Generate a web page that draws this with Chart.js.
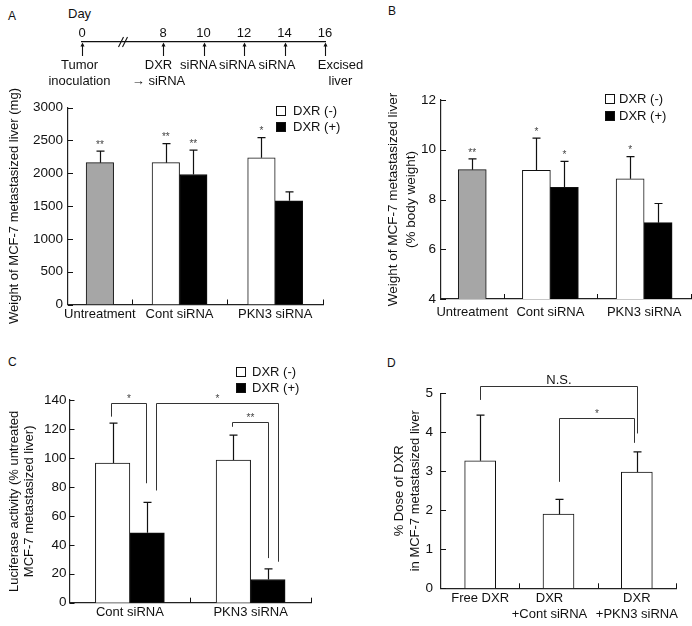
<!DOCTYPE html>
<html>
<head>
<meta charset="utf-8">
<title>DXR + PKN3 siRNA, MCF-7 liver metastasis</title>
<script src="https://cdn.jsdelivr.net/npm/chart.js@4.4.1/dist/chart.umd.min.js"></script>
<style>
  html, body { margin: 0; padding: 0; background: #fff; }
  body { position: relative; width: 692px; height: 626px; overflow: hidden;
         font-family: "Liberation Sans", Arial, "DejaVu Sans", sans-serif; color: #111; }
  .panel { position: absolute; }
  .tag { position: absolute; font-size: 12px; line-height: 14px; }
</style>
</head>
<body>
<div class="tag" style="left:8px;top:9px">A</div>
<div class="tag" style="left:68px;top:6px;font-size:13px;line-height:15px">Day</div>
<div class="tag" style="left:388px;top:4px">B</div>
<div class="tag" style="left:8px;top:355px">C</div>
<div class="tag" style="left:387px;top:356px">D</div>

<div class="panel" style="left:0;top:0;width:400px;height:100px"><canvas id="timeline"></canvas></div>
<div class="panel" style="left:0;top:85px;width:346px;height:245px"><canvas id="chartA"></canvas></div>
<div class="panel" style="left:346px;top:85px;width:346px;height:245px"><canvas id="chartB"></canvas></div>
<div class="panel" style="left:0;top:330px;width:346px;height:296px"><canvas id="chartC"></canvas></div>
<div class="panel" style="left:346px;top:330px;width:346px;height:296px"><canvas id="chartD"></canvas></div>

<script>
// schedule (top of panel A)
const days = ["0", "", "8", "10", "12", "14", "16"];
const events = [["Tumor", "inoculation"], "", ["DXR", "→ siRNA"], "siRNA", "siRNA", "siRNA", ["Excised", "liver"]];

// panels A and B
const groups = ["Untreatment", "Cont siRNA", "PKN3 siRNA"];

const mgUntreat = [2160, null, null];
const mgUntreatSd = [175, null, null];
const mgMinus = [null, 2160, 2235];
const mgMinusSd = [null, 290, 305];
const mgPlus = [null, 1980, 1580];
const mgPlusSd = [null, 370, 135];
const mgStarsUntreat = ["**", "", ""];
const mgStarsMinus = ["", "**", "*"];
const mgStarsPlus = ["", "**", ""];

const pctUntreat = [9.2, null, null];
const pctUntreatSd = [0.43, null, null];
const pctMinus = [null, 9.17, 8.83];
const pctMinusSd = [null, 1.3, 0.89];
const pctPlus = [null, 8.49, 7.07];
const pctPlusSd = [null, 1.04, 0.77];
const pctStarsUntreat = ["**", "", ""];
const pctStarsMinus = ["", "*", "*"];
const pctStarsPlus = ["", "*", ""];

// panel C
const lucGroups = ["Cont siRNA", "PKN3 siRNA"];
const lucMinus = [96.5, 98.5];
const lucMinusSd = [27.5, 17.3];
const lucPlus = [48.3, 16];
const lucPlusSd = [21, 7.3];
// a / b = [dataset, group]
const lucBrackets = [
  { a: [0, 0], b: [1, 0], top: 138, aFrom: 128.5, bFrom: 82.5, text: "*" },
  { a: [1, 0], b: [1, 1], top: 138, aFrom: 77.5, bFrom: 28.3, text: "*" },
  { a: [0, 1], b: [1, 1], top: 125, aFrom: 121.5, bFrom: 30.8, text: "**" }
];

// panel D
const doseGroups = ["Free DXR", ["DXR     ", "+Cont siRNA     "], ["DXR", "+PKN3 siRNA"]];
const dosePct = [3.27, 1.9, 2.98];
const dosePctSd = [1.17, 0.38, 0.52];
const doseBrackets = [
  { a: [0, 0], b: [0, 2], top: 5.19, aFrom: 4.83, bFrom: 3.97, text: "N.S." },
  { a: [0, 1], b: [0, 2], top: 4.36, aFrom: 2.73, bFrom: 3.73, text: "*" }
];

const FONT = '"Liberation Sans", Arial, "DejaVu Sans", sans-serif';
const INK = "#111";

// event captions in the figure sit a little off their arrows
const eventShift = [-3, 0, -5, -6, -7, -8.5, 15];

// the first group is cropped in the figure, so A/B use a linear x axis with unequal group widths
const spans = [2, 3, 3];
const edges = spans.reduce((acc, w) => { acc.push(acc[acc.length - 1] + w); return acc; }, [0]);
const centers = spans.map((w, i) => edges[i] + w / 2);
const pts = vals => vals.map((v, i) => ({ x: centers[i], y: v }));

function valueAt(ds, i) {
  const d = ds.data[i];
  return d !== null && typeof d === "object" ? d.y : d;
}

const figureMarks = {
  id: "figureMarks",
  afterDraw(chart, args, opts) {
    const ctx = chart.ctx;
    const area = chart.chartArea;
    const xs = chart.scales.x, ys = chart.scales.y;
    ctx.save();

    // tick marks point inwards
    ctx.strokeStyle = INK;
    ctx.lineWidth = 1;
    ctx.beginPath();
    ys.ticks.forEach(t => {
      const py = Math.round(ys.getPixelForValue(t.value)) + 0.5;
      ctx.moveTo(area.left, py);
      ctx.lineTo(area.left + 5, py);
    });
    (opts.bounds || []).forEach(v => {
      const px = Math.round(xs.getPixelForValue(v)) + 0.5;
      ctx.moveTo(px, area.bottom);
      ctx.lineTo(px, area.bottom - 5);
    });
    ctx.stroke();

    // SD bars and significance marks
    chart.data.datasets.forEach((ds, di) => {
      chart.getDatasetMeta(di).data.forEach((bar, i) => {
        const v = valueAt(ds, i);
        if (v == null || !ds.sd || ds.sd[i] == null) return;
        const yTop = ys.getPixelForValue(v + ds.sd[i]);
        const x = Math.round(bar.x) + 0.5;
        ctx.strokeStyle = INK;
        ctx.lineWidth = 1.2;
        ctx.beginPath();
        ctx.moveTo(x, bar.y);
        ctx.lineTo(x, yTop);
        ctx.moveTo(x - 4, yTop);
        ctx.lineTo(x + 4, yTop);
        ctx.stroke();
        const star = ds.stars && ds.stars[i];
        if (star) {
          ctx.fillStyle = "#444";
          ctx.font = "10px " + FONT;
          ctx.textAlign = "center";
          ctx.textBaseline = "alphabetic";
          ctx.fillText(star, bar.x, yTop - 3.3);
        }
      });
    });

    // comparison brackets
    (opts.brackets || []).forEach((b, k) => {
      const sh = (opts.legShift && opts.legShift[k]) || [0, 0];
      const xa = Math.round(chart.getDatasetMeta(b.a[0]).data[b.a[1]].x + sh[0]) + 0.5;
      const xb = Math.round(chart.getDatasetMeta(b.b[0]).data[b.b[1]].x + sh[1]) + 0.5;
      const yt = Math.round(ys.getPixelForValue(b.top)) + 0.5;
      ctx.strokeStyle = "#333";
      ctx.lineWidth = 1;
      ctx.beginPath();
      ctx.moveTo(xa, ys.getPixelForValue(b.aFrom));
      ctx.lineTo(xa, yt);
      ctx.lineTo(xb, yt);
      ctx.lineTo(xb, ys.getPixelForValue(b.bFrom));
      ctx.stroke();
      const star = /^\*+$/.test(b.text);
      ctx.font = (star ? "10px " : "13px ") + FONT;
      ctx.fillStyle = star ? "#444" : INK;
      ctx.textAlign = "center";
      ctx.textBaseline = "alphabetic";
      ctx.fillText(b.text, (xa + xb) / 2, yt - (star ? 1.5 : 3));
    });

    // legend inside the panel
    if (opts.legend) {
      const L = opts.legend;
      ctx.font = "13px " + FONT;
      ctx.textAlign = "left";
      ctx.textBaseline = "middle";
      chart.data.datasets.filter(ds => ds.inLegend).forEach((ds, k) => {
        const cy = Math.round(L.y + k * L.step);
        ctx.fillStyle = ds.backgroundColor;
        ctx.fillRect(L.x, cy - 5, 10, 10);
        ctx.strokeStyle = INK;
        ctx.lineWidth = 1;
        ctx.strokeRect(L.x + 0.5, cy - 4.5, 9, 9);
        ctx.fillStyle = INK;
        ctx.fillText(ds.label, L.x + L.gap, cy + 0.5);
      });
    }
    ctx.restore();
  }
};

const timelineMarks = {
  id: "timelineMarks",
  afterDraw(chart, args, opts) {
    const ctx = chart.ctx, xs = chart.scales.x, a = chart.chartArea;
    ctx.save();
    ctx.strokeStyle = INK;
    ctx.fillStyle = INK;
    ctx.lineWidth = 1.1;
    chart.data.labels.forEach((d, i) => {
      const x = Math.round(xs.getPixelForValue(i)) + 0.5;
      if (d === "") {
        ctx.beginPath();
        [-2.5, 1.5].forEach(o => {
          ctx.moveTo(x + o - 2.5, a.top + 5);
          ctx.lineTo(x + o + 2.5, a.top - 5);
        });
        ctx.stroke();
        return;
      }
      ctx.beginPath();
      ctx.moveTo(x, a.bottom);
      ctx.lineTo(x, a.top + 2);
      ctx.stroke();
      ctx.beginPath();
      ctx.moveTo(x, a.top + 0.5);
      ctx.lineTo(x - 2, a.top + 4.5);
      ctx.lineTo(x + 2, a.top + 4.5);
      ctx.closePath();
      ctx.fill();

      // caption under the arrow
      const lines = [].concat(opts.events[i]);
      ctx.font = "13px " + FONT;
      ctx.textAlign = "center";
      ctx.textBaseline = "middle";
      lines.forEach((t, k) => ctx.fillText(t, x + opts.shift[i], a.bottom + 9.5 + k * 16.3));
    });
    ctx.restore();
  }
};

const noGrid = { display: false, drawTicks: false };
const axisLine = { display: true, color: "#222", width: 1.2 };

new Chart(document.getElementById("timeline"), {
  type: "line",
  data: { labels: days, datasets: [] },
  options: {
    responsive: true, maintainAspectRatio: false, animation: false,
    layout: { padding: { left: 82, right: 75, top: 0, bottom: 44 } },
    plugins: {
      legend: { display: false }, tooltip: { enabled: false },
      timelineMarks: { events: events, shift: eventShift }
    },
    scales: {
      x: {
        type: "category", position: "top", offset: false,
        grid: noGrid, border: { display: true, color: INK, width: 1.2 },
        ticks: { font: { family: FONT, size: 13 }, color: INK, padding: 1.2, autoSkip: false, maxRotation: 0 },
        afterFit: s => { s.height = 42; }
      },
      y: { display: false, min: 0, max: 1 }
    }
  },
  plugins: [timelineMarks]
});

function weightChart(id, c) {
  const common = { borderColor: INK, borderWidth: 1, barThickness: c.barW, skipNull: true };
  return new Chart(document.getElementById(id), {
    type: "bar",
    data: {
      datasets: [
        { ...common, label: "Untreatment", data: pts(c.untreat), sd: c.untreatSd, stars: c.untreatStars, backgroundColor: "#a6a6a6" },
        { ...common, label: "DXR (-)", data: pts(c.minus), sd: c.minusSd, stars: c.minusStars, backgroundColor: "#ffffff", inLegend: true },
        { ...common, label: "DXR (+)", data: pts(c.plus), sd: c.plusSd, stars: c.plusStars, backgroundColor: "#000000", inLegend: true }
      ]
    },
    options: {
      responsive: true, maintainAspectRatio: false, animation: false,
      layout: { padding: { top: c.padTop, right: c.padRight, left: 0, bottom: 0 } },
      plugins: {
        legend: { display: false }, tooltip: { enabled: false },
        figureMarks: { bounds: edges.slice(1), legend: c.legend }
      },
      scales: {
        x: {
          type: "linear", min: edges[0], max: edges[edges.length - 1], offset: false,
          grid: noGrid, border: axisLine,
          afterBuildTicks: s => { s.ticks = centers.map(v => ({ value: v })); },
          ticks: { callback: (v, i) => groups[i], font: { family: FONT, size: 13 }, color: INK,
                   padding: c.xPad, autoSkip: false, maxRotation: 0 },
          afterFit: s => { s.height = c.xH; }
        },
        y: {
          min: c.yMin, max: c.yMax,
          grid: noGrid, border: axisLine,
          ticks: { stepSize: c.yStep, callback: v => String(v), font: { family: FONT, size: 13.5 }, color: INK, padding: 5 },
          title: { display: true, text: c.yTitle, color: INK, font: c.titleFont, padding: { top: c.titlePad, bottom: 0 } },
          afterFit: s => { s.width = c.yW; }
        }
      }
    },
    plugins: [figureMarks]
  });
}

weightChart("chartA", {
  untreat: mgUntreat, untreatSd: mgUntreatSd, untreatStars: mgStarsUntreat,
  minus: mgMinus, minusSd: mgMinusSd, minusStars: mgStarsMinus,
  plus: mgPlus, plusSd: mgPlusSd, plusStars: mgStarsPlus,
  yMin: 0, yMax: 3000, yStep: 500,
  yTitle: "Weight of MCF-7 metastasized liver (mg)",
  titleFont: { family: FONT, size: 13, lineHeight: 1.2 }, titlePad: 6.2,
  barW: 27.5, padTop: 22.5, padRight: 23, yW: 68, xH: 25.5, xPad: 1.7,
  legend: { x: 276, y: 26, step: 16, gap: 17 }
});

weightChart("chartB", {
  untreat: pctUntreat, untreatSd: pctUntreatSd, untreatStars: pctStarsUntreat,
  minus: pctMinus, minusSd: pctMinusSd, minusStars: pctStarsMinus,
  plus: pctPlus, plusSd: pctPlusSd, plusStars: pctStarsPlus,
  yMin: 4, yMax: 12, yStep: 2,
  yTitle: ["Weight of MCF-7 metastasized liver", "(% body weight)"],
  titleFont: { family: FONT, size: 13.5, lineHeight: 1.33 }, titlePad: 38,
  barW: 28, padTop: 15, padRight: 1, yW: 95, xH: 31, xPad: 5.7,
  legend: { x: 259, y: 14, step: 17, gap: 14 }
});

function cdChart(id, c) {
  return new Chart(document.getElementById(id), {
    type: "bar",
    data: { labels: c.labels, datasets: c.datasets },
    options: {
      responsive: true, maintainAspectRatio: false, animation: false,
      layout: { padding: { top: c.padTop, right: c.padRight, left: 0, bottom: 0 } },
      plugins: {
        legend: { display: false }, tooltip: { enabled: false },
        figureMarks: { bounds: c.labels.map((_, i) => i + 0.5), brackets: c.brackets, legShift: c.legShift, legend: c.legend }
      },
      scales: {
        x: {
          type: "category", offset: true,
          grid: noGrid, border: axisLine,
          ticks: { font: { family: FONT, size: 13 }, color: INK, padding: c.xPad, autoSkip: false, maxRotation: 0 },
          afterFit: s => { s.height = c.xH; }
        },
        y: {
          min: c.yMin, max: c.yMax,
          grid: noGrid, border: axisLine,
          ticks: { stepSize: c.yStep, callback: v => String(v), font: { family: FONT, size: 13.5 }, color: INK, padding: c.yPad },
          title: { display: true, text: c.yTitle, color: INK, font: c.titleFont, padding: { top: c.titlePad, bottom: 0 } },
          afterFit: s => { s.width = c.yW; }
        }
      }
    },
    plugins: [figureMarks]
  });
}

cdChart("chartC", {
  labels: lucGroups,
  datasets: [
    { label: "DXR (-)", data: lucMinus, sd: lucMinusSd, backgroundColor: "#ffffff", borderColor: INK, borderWidth: 1, barThickness: 34.5, inLegend: true },
    { label: "DXR (+)", data: lucPlus, sd: lucPlusSd, backgroundColor: "#000000", borderColor: INK, borderWidth: 1, barThickness: 34.5, inLegend: true }
  ],
  brackets: lucBrackets, legShift: [[-2, -1], [9, 10.5], [-1, 0]],
  yMin: 0, yMax: 140, yStep: 20, yPad: 3,
  yTitle: ["Luciferase activity (% untreated", "MCF-7 metastasized liver)"],
  titleFont: { family: FONT, size: 13, lineHeight: 1.2 }, titlePad: 6.2,
  padTop: 70, padRight: 35, yW: 69.5, xH: 23.3, xPad: 1.5,
  legend: { x: 236, y: 41.7, step: 16, gap: 16 }
});

cdChart("chartD", {
  labels: doseGroups,
  datasets: [
    { label: "% Dose of DXR", data: dosePct, sd: dosePctSd, backgroundColor: "#ffffff", borderColor: INK, borderWidth: 1, barThickness: 31 }
  ],
  brackets: doseBrackets, legShift: [[0, 0.5], [0.5, -2.5]],
  yMin: 0, yMax: 5, yStep: 1, yPad: 8,
  yTitle: ["% Dose of DXR", "in MCF-7 metastasized liver"],
  titleFont: { family: FONT, size: 13, lineHeight: 1.3 }, titlePad: 44.5,
  padTop: 63.3, padRight: 16, yW: 95, xH: 37.7, xPad: 2.4
});
</script>
</body>
</html>
